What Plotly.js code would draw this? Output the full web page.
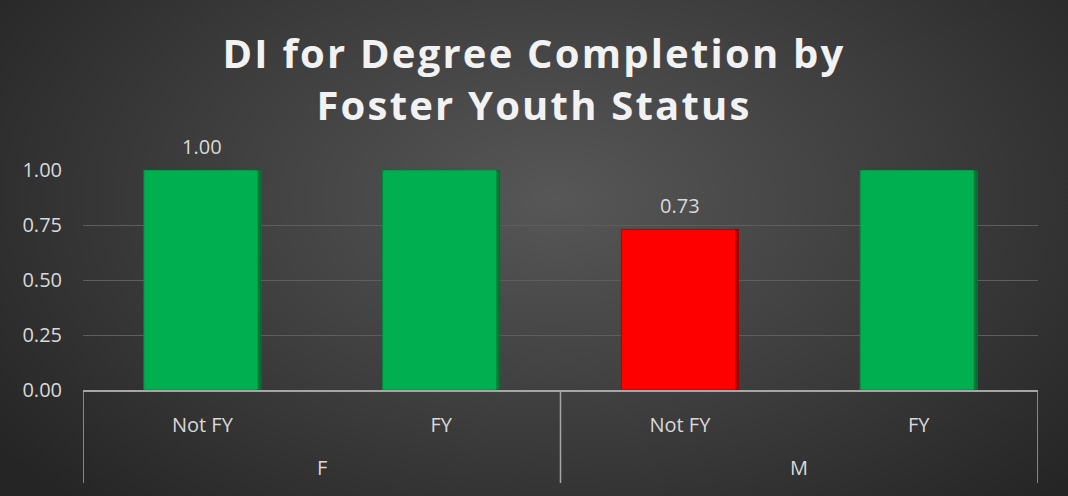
<!DOCTYPE html>
<html>
<head>
<meta charset="utf-8">
<script src="https://cdn.plot.ly/plotly-3.0.1.min.js"></script>
<style>
html,body{margin:0;padding:0;}
#chart{width:1068px;height:496px;background:radial-gradient(ellipse 65% 85% at 52% 40%, #575757 0%, #3c3c3c 55%, #252525 100%);}
.gtitle{letter-spacing:2.2px;}
</style>
</head>
<body>
<div id="chart"></div>
<script>
const genders = ["F", "F", "M", "M"];
const status = ["Not FY", "FY", "Not FY", "FY"];
const values = [1.00, 1.00, 0.73, 1.00];
const labels = ["1.00", "", "0.73", ""];
const colors = ["#00b050", "#00b050", "#ff0000", "#00b050"];
const lineColors = ["#008a3e", "#008a3e", "#b00000", "#008a3e"];
const yTicks = [0, 0.25, 0.5, 0.75, 1.0];
const yTickText = ["0.00", "0.25", "0.50", "0.75", "1.00"];

const idx = status.map((_, i) => i);
const axisColor = "#a6a6a6";
const textColor = "#d9d9d9";
const barWidth = 0.49;

const trace = {
  type: "bar",
  x: idx,
  y: values,
  marker: {color: colors, line: {color: lineColors, width: 1}},
  width: barWidth,
  hoverinfo: "none"
};
// bevel shading on the right edge of each bar
const edge = {
  type: "bar",
  x: idx,
  y: values,
  marker: {color: "rgba(0,0,0,0.3)", line: {width: 0}},
  width: 0.014,
  offset: barWidth / 2 - 0.014,
  hoverinfo: "none"
};

// data labels
const annotations = [];
labels.forEach((t, i) => {
  if (t) annotations.push({
    x: idx[i], y: values[i], xref: "x", yref: "y", text: t, showarrow: false,
    yanchor: "middle", yshift: 24,
    font: {family: "Open Sans", size: 20, color: textColor}
  });
});

// group labels and dividers
const groups = [];
genders.forEach((g, i) => {
  const last = groups[groups.length - 1];
  if (last && last.name === g) last.end = i; else groups.push({name: g, start: i, end: i});
});
const shapes = [];
const divBottom = -0.4227;
groups.forEach((grp, k) => {
  annotations.push({
    x: (grp.start + grp.end) / 2, y: -0.3545, xref: "x", yref: "paper",
    text: grp.name, showarrow: false, yanchor: "middle",
    font: {family: "Open Sans", size: 20, color: textColor}
  });
  if (k === 0) shapes.push({type: "line", xref: "x", yref: "paper", x0: grp.start - 0.5, x1: grp.start - 0.5, y0: 0, y1: divBottom, line: {color: axisColor, width: 1.5}});
  shapes.push({type: "line", xref: "x", yref: "paper", x0: grp.end + 0.5, x1: grp.end + 0.5, y0: 0, y1: divBottom, line: {color: axisColor, width: 1.5}});
});

const layout = {
  width: 1068, height: 496,
  paper_bgcolor: "rgba(0,0,0,0)",
  plot_bgcolor: "rgba(0,0,0,0)",
  margin: {l: 83, r: 30, t: 170, b: 106},
  showlegend: false,
  barmode: "overlay",
  title: {
    text: "DI for Degree Completion by<br>Foster Youth Status",
    font: {family: "Open Sans", size: 40, color: "#f2f2f2", weight: "bold"},
    x: 0.5, xanchor: "center", yref: "container", y: 0.862, yanchor: "middle"
  },
  xaxis: {
    range: [-0.5, status.length - 0.5],
    tickvals: idx, ticktext: status,
    showline: true, linecolor: axisColor, linewidth: 1.5,
    showgrid: false, zeroline: false, ticks: "",
    ticklabelstandoff: 16,
    tickfont: {family: "Open Sans", size: 20, color: textColor}
  },
  yaxis: {
    range: [0, 1],
    tickvals: yTicks, ticktext: yTickText,
    tickfont: {family: "Open Sans", size: 20, color: textColor},
    showgrid: true, gridcolor: "#5e5e5e", gridwidth: 1,
    zeroline: false, showline: false, ticks: "",
    ticklabelstandoff: 20, automargin: false
  },
  annotations: annotations,
  shapes: shapes
};

Plotly.newPlot("chart", [trace, edge], layout, {displayModeBar: false, staticPlot: true});
</script>
</body>
</html>
